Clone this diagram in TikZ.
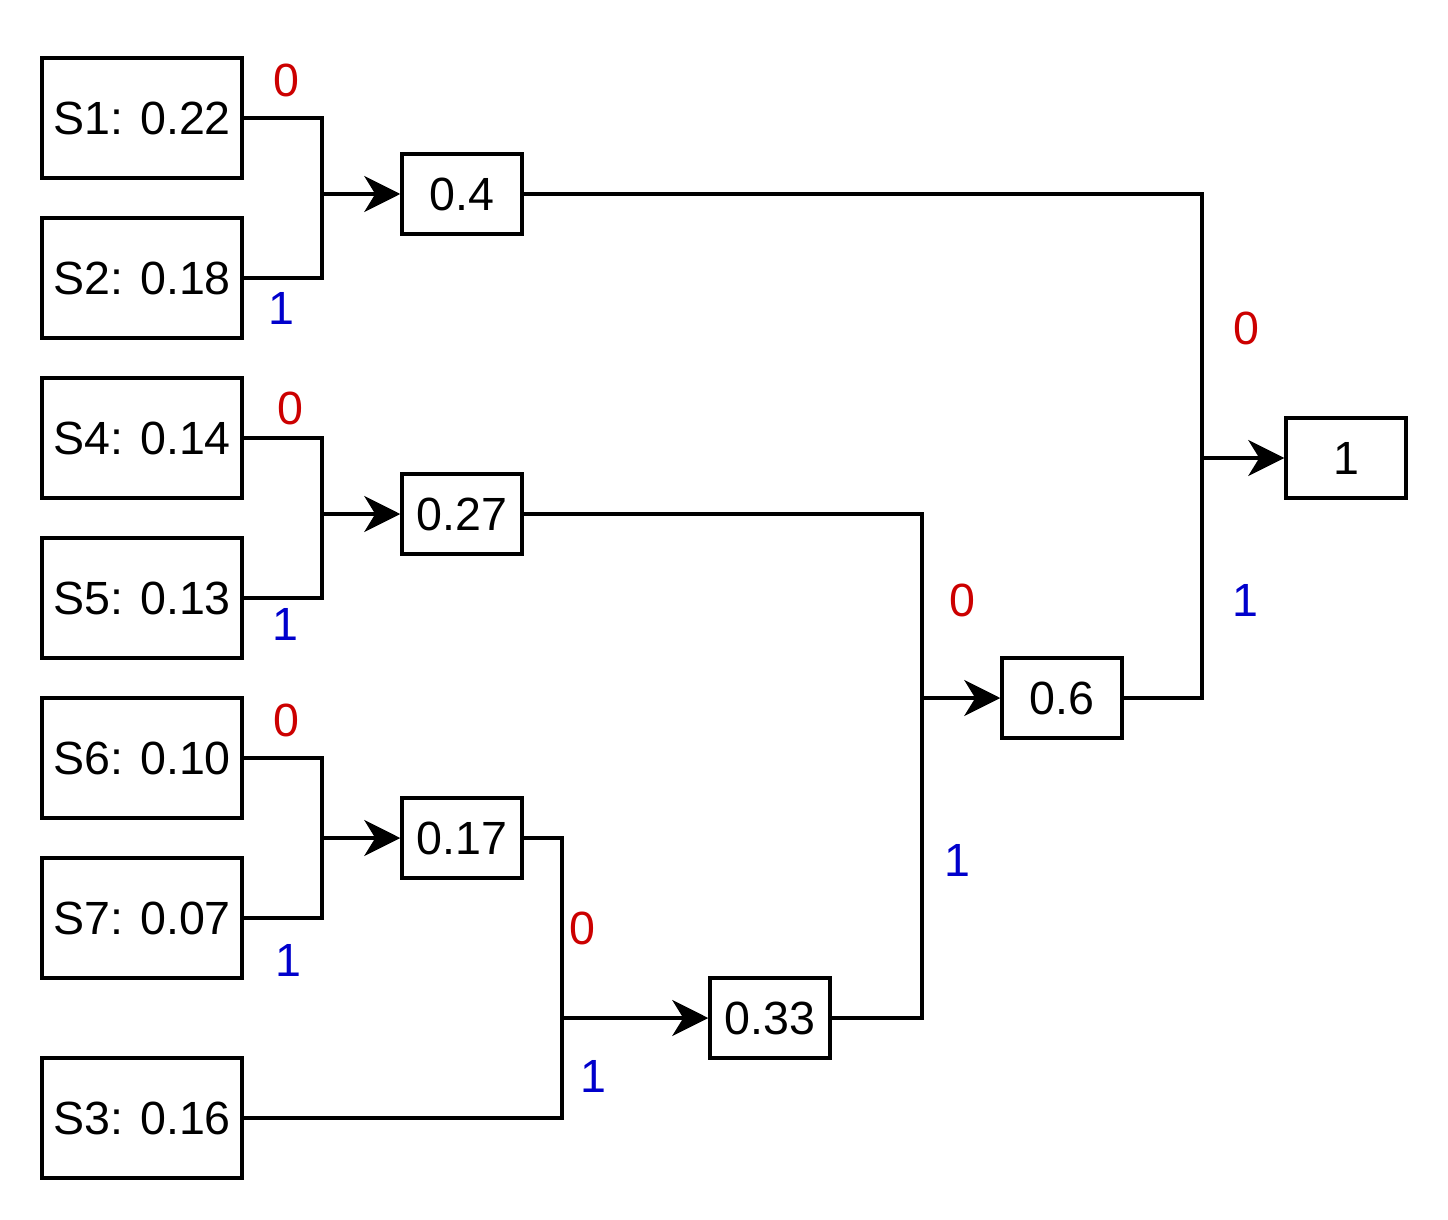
\documentclass[tikz,border=0pt]{standalone}
\usepackage{fontspec}
\setmainfont{Liberation Sans}
\usepackage{tikz}
\usetikzlibrary{arrows.meta}
\definecolor{zero}{RGB}{204,0,0}
\definecolor{one}{RGB}{0,0,204}
\tikzset{
  leaf/.style={draw=black, line width=0.07cm, minimum width=4cm, minimum height=2.4cm,
               inner sep=0pt, font=\fontsize{26.5}{32}\selectfont},
  sum/.style={draw=black, line width=0.07cm, minimum width=2.4cm, minimum height=1.6cm,
              inner sep=0pt, font=\fontsize{26.5}{32}\selectfont},
  wire/.style={black, line width=0.07cm},
  flow/.style={wire, -{Stealth[length=0.72cm, width=0.72cm, inset=0.22cm]}},
  bit0/.style={font=\fontsize{26.5}{32}\selectfont, text=zero},
  bit1/.style={font=\fontsize{26.5}{32}\selectfont, text=one},
}
\begin{document}
\begin{tikzpicture}
    \useasboundingbox (0,0) rectangle (28.96,-24.4);
    % source symbols
    \node[leaf] (s1) at (2.84,-2.36)  {S1: 0.22};
    \node[leaf] (s2) at (2.84,-5.56)  {S2: 0.18};
    \node[leaf] (s4) at (2.84,-8.76)  {S4: 0.14};
    \node[leaf] (s5) at (2.84,-11.96) {S5: 0.13};
    \node[leaf] (s6) at (2.84,-15.16) {S6: 0.10};
    \node[leaf] (s7) at (2.84,-18.36) {S7: 0.07};
    \node[leaf] (s3) at (2.84,-22.36) {S3: 0.16};
    % merged sums
    \node[sum] (p04)  at (9.24,-3.88)   {0.4};
    \node[sum] (p027) at (9.24,-10.28)  {0.27};
    \node[sum] (p017) at (9.24,-16.76)  {0.17};
    \node[sum] (p033) at (15.4,-20.36)  {0.33};
    \node[sum] (p06)  at (21.24,-13.96) {0.6};
    \node[sum] (p1)   at (26.92,-9.16)  {1};
    % junctions
    \coordinate (j1) at (6.44,-3.88);
    \coordinate (j2) at (6.44,-10.28);
    \coordinate (j3) at (6.44,-16.76);
    \coordinate (j4) at (11.24,-20.36);
    \coordinate (j5) at (18.44,-13.96);
    \coordinate (j6) at (24.04,-9.16);
    \foreach \a/\b/\j/\t in {s1/s2/j1/p04, s4/s5/j2/p027, s6/s7/j3/p017,
                             p017/s3/j4/p033, p027/p033/j5/p06, p04/p06/j6/p1} {
      \draw[wire] (\a.east) -| (\j);
      \draw[wire] (\b.east) -| (\j);
      \draw[flow] (\j) -- (\t.west); }
    % code bits
    \node[bit0] at (5.72,-1.6)   {0};
    \node[bit1] at (5.62,-6.16)  {1};
    \node[bit0] at (5.8,-8.16)   {0};
    \node[bit1] at (5.7,-12.48)  {1};
    \node[bit0] at (5.72,-14.4)  {0};
    \node[bit1] at (5.76,-19.2)  {1};
    \node[bit0] at (11.64,-18.56) {0};
    \node[bit1] at (11.86,-21.52) {1};
    \node[bit0] at (19.24,-12)   {0};
    \node[bit1] at (19.14,-17.2) {1};
    \node[bit0] at (24.92,-6.56) {0};
    \node[bit1] at (24.9,-12)    {1};
\end{tikzpicture}
\end{document}
